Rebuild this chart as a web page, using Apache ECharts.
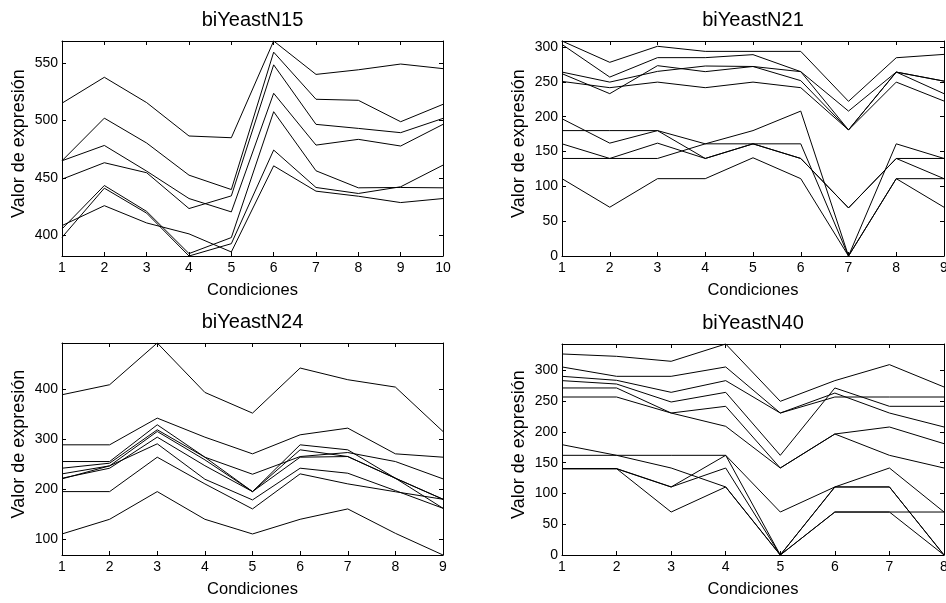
<!DOCTYPE html>
<html>
<head>
<meta charset="utf-8">
<script src="https://cdn.jsdelivr.net/npm/echarts@6/dist/echarts.min.js"></script>
<style>
  html, body { margin: 0; padding: 0; background: #fff; }
  #chart { width: 946px; height: 603px; }
</style>
</head>
<body>
<div id="chart"></div>
<script>
// Expression profiles of four yeast biclusters, one line per gene.

// biYeastN15
const conditionsN15 = [1, 2, 3, 4, 5, 6, 7, 8, 9, 10];
const yTicksN15 = [400, 450, 500, 550];
const biYeastN15 = [
  [515, 537.5, 515.5, 486.5, 485, 569, 540, 544, 549, 545],
  [465, 502, 480.4, 452.5, 440, 559.3, 518.4, 517.5, 498.9, 514],
  [449, 463.3, 454.6, 423.5, 434.5, 548.3, 496.6, 493.1, 489.4, 501.8],
  [465, 478.3, 456, 432.2, 420.6, 523.6, 478.6, 483.6, 477.8, 496.6],
  [405.8, 443.5, 421, 384.4, 398.3, 507.6, 456.3, 441.5, 441.8, 441.5],
  [398.5, 441.2, 419.5, 382.3, 393, 474.3, 441.8, 436.6, 442.4, 461.2],
  [408.7, 426, 411, 401.5, 385.8, 460.6, 438.6, 434.2, 428.7, 432.2]
];

// biYeastN21
const conditionsN21 = [1, 2, 3, 4, 5, 6, 7, 8, 9];
const yTicksN21 = [0, 50, 100, 150, 200, 250, 300];
const biYeastN21 = [
  [308.6, 278, 301, 293.7, 293.7, 293.7, 222, 284.6, 289.4],
  [303.7, 256.8, 284.7, 284.7, 289, 264.6, 208, 264, 233],
  [264, 249.6, 265, 272.7, 272, 251.7, 181, 264, 251],
  [261.7, 233, 273.2, 264.6, 272, 264.6, 181, 264, 251],
  [250.6, 241.6, 249.6, 241.6, 249.6, 241.6, 181, 249.6, 222.4],
  [111, 70, 111, 111, 141, 111, 0, 111, 70],
  [140, 140, 140, 161, 180, 208, 0, 161, 140],
  [180, 180, 180, 161, 161, 161, 0, 111, 111],
  [197, 162, 180, 140, 161, 140, 69, 140, 111],
  [161, 140, 162, 140, 161, 140, 69, 140, 140]
];

// biYeastN24
const conditionsN24 = [1, 2, 3, 4, 5, 6, 7, 8, 9];
const yTicksN24 = [100, 200, 300, 400];
const biYeastN24 = [
  [388.7, 408.7, 492, 393.3, 352, 442, 418.7, 404, 315.3],
  [288.7, 288.7, 342, 304, 270.7, 308.7, 322, 270.7, 264],
  [110.7, 140, 195.3, 140, 110.7, 140, 160.7, 112, 68.7],
  [195.3, 195.3, 264, 210.7, 160.7, 230.7, 210.7, 195, 180],
  [255.3, 255.3, 328.7, 264, 230, 265.3, 273.3, 255.3, 220.7],
  [242, 252, 318.7, 264, 195.3, 288.7, 278.7, 222, 180],
  [230.7, 246.7, 315.3, 258.7, 195.3, 278.7, 265.3, 222, 162],
  [222, 242, 304, 247, 195.3, 264, 265.3, 222, 180],
  [220.7, 246.7, 290.7, 220, 178.7, 242, 232, 197.3, 162]
];

// biYeastN40
const conditionsN40 = [1, 2, 3, 4, 5, 6, 7, 8];
const yTicksN40 = [0, 50, 100, 150, 200, 250, 300];
const biYeastN40 = [
  [326.5, 322.7, 314.6, 342.7, 249.6, 283.2, 309.2, 272.9],
  [305.4, 290.2, 290.2, 305.4, 230.6, 263, 230.6, 207.9],
  [290.2, 283.7, 264.2, 283.2, 230.6, 256.6, 256.6, 256.6],
  [283.2, 277.7, 248.5, 264.2, 161.9, 271.3, 241.5, 241.5],
  [271.3, 271.3, 230.6, 241.5, 141.3, 196.5, 207.9, 180.8],
  [256.6, 256.6, 230.6, 209, 141.3, 196.5, 161.9, 141.3],
  [179.2, 161.9, 141.3, 110.5, 0, 69.8, 69.8, 0],
  [161.9, 161.9, 161.9, 161.9, 69.8, 110.5, 141.3, 69.8],
  [140.2, 140.2, 110.5, 161.9, 0, 110.5, 110.5, 0],
  [140.2, 140.2, 69.8, 110.5, 0, 69.8, 69.8, 69.8],
  [140.2, 140.2, 110.5, 141.3, 0, 110.5, 110.5, 0]
];

const panelTitles = ['biYeastN15', 'biYeastN21', 'biYeastN24', 'biYeastN40'];
const xAxisTitle = 'Condiciones';
const yAxisTitle = 'Valor de expresión';

const FONT = '"Liberation Sans", Arial, Helvetica, sans-serif';
const INK = '#000';

const panels = [
  { conditions: conditionsN15, profiles: biYeastN15, ticks: yTicksN15,
    grid: { left: 62, top: 41, width: 381, height: 215 } },
  { conditions: conditionsN21, profiles: biYeastN21, ticks: yTicksN21,
    grid: { left: 562, top: 41, width: 382, height: 215 } },
  { conditions: conditionsN24, profiles: biYeastN24, ticks: yTicksN24,
    grid: { left: 62, top: 343, width: 381, height: 212 } },
  { conditions: conditionsN40, profiles: biYeastN40, ticks: yTicksN40,
    grid: { left: 562, top: 344, width: 382, height: 211 } }
];

const grids = [], xAxes = [], yAxes = [], series = [], titles = [];

const tickStyle = { inside: true, length: 4, lineStyle: { color: INK, width: 1 } };
const lineStyle = { onZero: false, lineStyle: { color: INK, width: 1 } };

panels.forEach((p, i) => {
  grids.push(Object.assign({ show: false, containLabel: false, outerBoundsMode: 'none' }, p.grid));

  // tight vertical range, as with "axis tight"
  const all = p.profiles.flat();
  const yMin = Math.min(...all);
  const yMax = Math.max(...all);
  const xMin = p.conditions[0];
  const xMax = p.conditions[p.conditions.length - 1];

  titles.push({
    text: panelTitles[i],
    left: p.grid.left + p.grid.width / 2,
    top: p.grid.top - 31,
    textAlign: 'center',
    padding: 0,
    textStyle: { fontFamily: FONT, fontSize: 20, fontWeight: 'normal', color: INK }
  });

  // bottom axis with labels, top axis with ticks only
  xAxes.push({
    gridIndex: i, type: 'value', position: 'bottom',
    min: xMin, max: xMax, interval: 1,
    name: xAxisTitle, nameLocation: 'middle', nameGap: 26,
    nameTextStyle: { fontFamily: FONT, fontSize: 16.5, color: INK },
    axisLine: lineStyle, axisTick: tickStyle,
    axisLabel: { fontFamily: FONT, fontSize: 14, color: INK, margin: 5 },
    splitLine: { show: false }
  });
  xAxes.push({
    gridIndex: i, type: 'value', position: 'top',
    min: xMin, max: xMax, interval: 1,
    axisLine: lineStyle, axisTick: tickStyle,
    axisLabel: { show: false }, splitLine: { show: false }
  });

  // left axis with labels, right axis with ticks only
  yAxes.push({
    gridIndex: i, type: 'value', position: 'left',
    min: yMin, max: yMax,
    name: yAxisTitle, nameLocation: 'middle', nameGap: 34,
    nameTextStyle: { fontFamily: FONT, fontSize: 18, color: INK, padding: [0, 0, 0, 10] },
    axisLine: lineStyle,
    axisTick: Object.assign({ customValues: p.ticks }, tickStyle),
    axisLabel: { customValues: p.ticks, fontFamily: FONT, fontSize: 14, color: INK, margin: 4 },
    splitLine: { show: false }
  });
  yAxes.push({
    gridIndex: i, type: 'value', position: 'right',
    min: yMin, max: yMax,
    axisLine: lineStyle,
    axisTick: Object.assign({ customValues: p.ticks }, tickStyle),
    axisLabel: { show: false }, splitLine: { show: false }
  });

  p.profiles.forEach(profile => {
    series.push({
      type: 'line',
      xAxisIndex: 2 * i,
      yAxisIndex: 2 * i,
      data: p.conditions.map((c, k) => [c, profile[k]]),
      symbol: 'none',
      silent: true,
      clip: false,
      lineStyle: { color: INK, width: 1 }
    });
  });
});

const chart = echarts.init(document.getElementById('chart'), null, { renderer: 'canvas' });
chart.setOption({
  animation: false,
  backgroundColor: '#fff',
  title: titles,
  grid: grids,
  xAxis: xAxes,
  yAxis: yAxes,
  series: series
});
</script>
</body>
</html>
